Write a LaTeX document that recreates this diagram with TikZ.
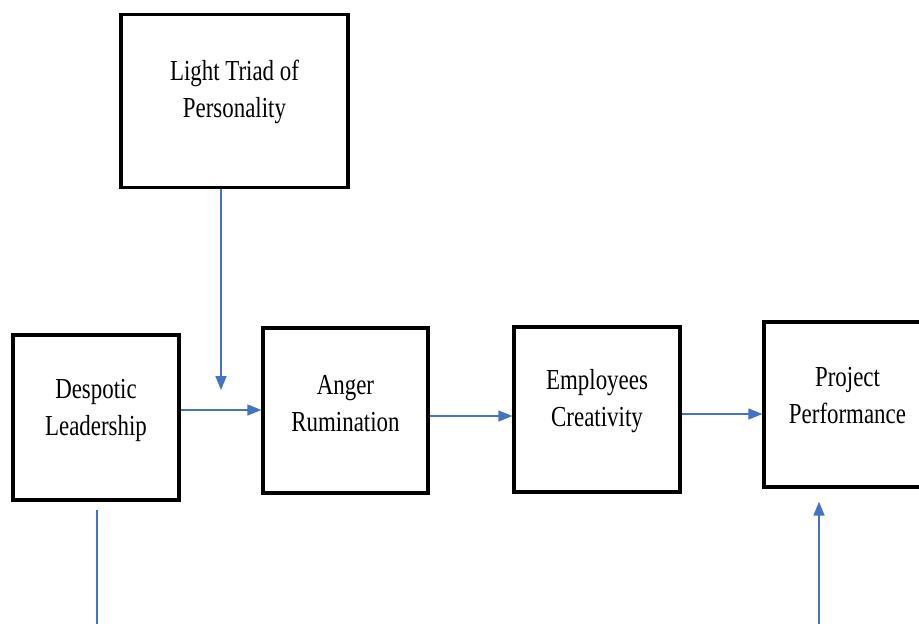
\documentclass[tikz,border=0pt]{standalone}
\usepackage{fontspec}
\setmainfont{Liberation Serif}[FakeStretch=0.79]
\usetikzlibrary{arrows.meta}
\definecolor{arrowblue}{HTML}{4472C4}
\begin{document}
\begin{tikzpicture}[x=1pt,y=-1pt,
  box/.style={draw=black, line width=3.3pt, inner sep=0pt, minimum height=165pt},
  conn/.style={draw=arrowblue, line width=1.6pt},
  arr/.style={conn, -{Triangle[length=14pt,width=11pt]}},
  lbl/.style={font=\fontsize{29}{37}\selectfont, align=center, inner sep=0pt}]
\useasboundingbox (0,0) rectangle (919,624);

\node[box, minimum width=227pt, minimum height=173pt,
  label={[lbl, yshift=9pt]center:Light Triad of\\Personality}] (LT) at (234.5,101) {};
\node[box, minimum width=166pt,
  label={[lbl, yshift=7pt]center:Despotic\\Leadership}] (D) at (96,417.5) {};
\node[box, minimum width=165pt,
  label={[lbl, yshift=7pt]center:Anger\\Rumination}] (A) at (345.5,410.5) {};
\node[box, minimum width=166pt,
  label={[lbl, yshift=8pt]center:Employees\\Creativity}] (E) at (597,409.5) {};
\node[box, minimum width=167pt,
  label={[lbl, yshift=9pt]center:Project\\Performance}] (P) at (847.5,404.5) {};

\coordinate (ltend) at (221,390);
\coordinate (dl1) at (97,510);
\coordinate (dl2) at (97,630);
\coordinate (pr) at (819,630);

\draw[arr] ([xshift=-13.5pt]LT.south) -- (ltend);
\draw[arr] ([yshift=0.5pt]A.west -| D.east) -- ([yshift=0.5pt]A.west);
\draw[arr] ([yshift=-5.5pt]A.east) -- ([yshift=-5.5pt]A.east -| E.west);
\draw[arr] ([yshift=-4.5pt]E.east) -- ([yshift=-4.5pt]E.east -| P.west);
\draw[conn] (dl1) -- (dl2);
\draw[arr] (pr) -- ([xshift=-28.5pt,yshift=-13pt]P.south);
\end{tikzpicture}
\end{document}
